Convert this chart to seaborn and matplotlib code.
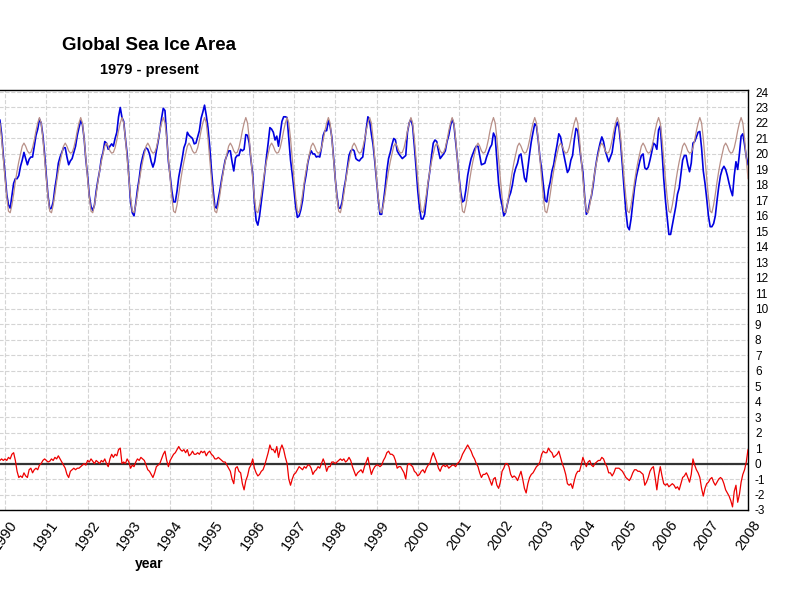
import numpy as np
import pandas as pd
import matplotlib
matplotlib.use("Agg")
import matplotlib.pyplot as plt
import seaborn as sns

# mean seasonal cycle (brown line), 24 steps per year
clim_cycle = [18.4, 17.2, 16.3, 16.2, 16.7, 17.4, 18.2, 18.9, 19.5, 20.0, 20.5, 20.7,
              20.5, 20.2, 20.05, 20.1, 20.4, 20.9, 21.5, 22.0, 22.35, 22.0, 21.0, 19.7]

# anomaly (red line), 24 steps per year
anom_1989_end = [0.2, 0.3, 0.2]
anom_1990 = [0.3, 0.2, 0.4, 0.3, 0.6, 0.7, 0.2, -0.5, -0.9, -0.8, -0.9, -0.6,
             -0.8, -0.9, -0.4, -0.3, -0.6, -0.4, -0.3, -0.4, -0.1, 0.0, 0.2, 0.3]
anom_1991 = [0.2, 0.1, 0.15, 0.3, 0.2, 0.4, 0.3, 0.5, 0.3, 0.1, -0.1, -0.3,
             -0.7, -0.9, -0.5, -0.4, -0.3, -0.4, -0.3, -0.3, -0.2, -0.1, 0.0, -0.1]
anom_1992 = [0.2, 0.1, 0.3, 0.15, 0.0, 0.2, 0.1, 0.0, 0.2, 0.1, 0.3, 0.0,
             -0.2, 0.3, 0.6, 0.4, 0.6, 0.5, 0.9, 1.0, 0.0, 0.1, 0.0, 0.3]
anom_1993 = [0.1, -0.3, -0.1, -0.2, 0.1, 0.3, 0.2, 0.4, 0.3, 0.2, -0.1, -0.4,
             -0.5, -0.7, -0.9, -0.6, -0.2, -0.1, 0.0, 0.3, 0.6, 0.8, 0.2, -0.2]
anom_1994 = [0.2, 0.4, 0.6, 0.7, 0.9, 1.1, 0.9, 0.8, 0.9, 0.7, 0.9, 0.5,
             0.6, 0.8, 0.6, 0.6, 0.7, 0.6, 0.8, 0.7, 0.8, 0.5, 0.7, 0.8]
anom_1995 = [0.6, 0.5, 0.3, 0.3, 0.4, 0.3, 0.2, 0.1, 0.1, -0.1, -0.3, -0.5,
             -1.0, -1.3, -0.3, -0.2, -0.5, -0.6, -1.3, -1.7, -1.1, -0.8, -0.3, -0.1]
anom_1996 = [0.3, -0.3, -0.6, -0.8, -0.7, -0.5, -0.4, -0.1, 0.3, 0.7, 1.2, 0.9,
             0.9, 0.7, 1.1, 0.4, 0.9, 1.2, 0.9, 0.4, 0.0, -1.0, -1.4, -1.0]
anom_1997 = [-0.7, -0.6, -0.4, -0.2, -0.3, -0.4, -0.2, -0.3, -0.1, -0.1, -0.3, -0.7,
             -0.5, -0.4, -0.2, -0.3, 0.0, 0.3, 0.0, -0.5, -0.2, -0.2, 0.1, 0.1]
anom_1998 = [0.0, 0.1, 0.2, 0.3, 0.2, 0.3, 0.1, 0.2, 0.4, 0.2, -0.2, -0.5,
             -0.8, -0.6, -0.5, -0.4, -0.6, -0.2, 0.1, 0.4, -0.2, -0.7, -0.4, -0.2]
anom_1999 = [-0.1, -0.1, -0.2, -0.1, 0.2, 0.4, 0.7, 0.8, 0.6, 0.6, 0.5, 0.2,
             -0.3, -0.2, -0.2, -0.4, -0.6, -1.0, -0.1, 0.0, -0.1, -0.2, -0.5, -0.6]
anom_2000 = [-0.8, -0.7, -0.5, -0.4, -0.6, -0.3, -0.1, 0.0, 0.4, 0.7, 0.4, 0.1,
             -0.3, -0.5, -0.2, -0.1, -0.2, -0.1, -0.3, -0.2, -0.1, -0.1, -0.2, 0.0]
anom_2001 = [0.1, 0.3, 0.6, 0.8, 1.0, 1.2, 1.0, 0.8, 0.5, 0.3, 0.0, -0.2,
             -0.6, -0.9, -0.7, -0.7, -0.6, -0.8, -1.1, -1.4, -1.0, -0.9, -1.4, -1.6]
anom_2002 = [-1.2, -0.5, -0.3, 0.0, 0.0, -0.2, -0.7, -0.9, -0.8, -0.9, -1.1, -0.8,
             -0.5, -1.0, -1.6, -1.9, -1.3, -0.9, -0.7, -0.6, -0.4, -0.2, -0.1, 0.1]
anom_2003 = [0.6, 0.8, 0.7, 0.7, 1.0, 0.8, 0.7, 0.4, 0.5, 0.6, 0.8, 0.4,
             0.0, -0.3, -0.7, -1.3, -1.4, -1.3, -1.6, -1.1, -0.7, -0.5, -0.5, -0.1]
anom_2004 = [0.4, 0.1, -0.2, 0.1, 0.2, -0.1, -0.2, 0.0, 0.1, 0.2, 0.2, 0.4,
             0.3, 0.0, -0.2, -0.6, -0.6, -0.8, -0.6, -0.3, -0.3, -0.3, -0.4, -0.5]
anom_2005 = [-0.7, -0.9, -1.0, -1.1, -0.9, -0.6, -0.4, -0.4, -0.5, -0.5, -0.6, -0.7,
             -1.4, -1.2, -0.9, -0.5, -0.3, -0.2, -0.9, -1.7, -0.8, -0.2, -0.8, -1.3]
anom_2006 = [-1.4, -1.3, -1.5, -1.4, -1.3, -1.4, -1.6, -1.5, -1.7, -1.3, -0.9, -0.8,
             -0.6, -0.9, -1.2, -0.7, 0.3, -0.1, -0.4, -0.6, -0.9, -1.6, -2.1, -1.6]
anom_2007 = [-1.3, -1.2, -1.0, -0.9, -1.2, -1.4, -1.2, -1.0, -0.9, -1.0, -1.3, -1.7,
             -1.9, -2.1, -2.4, -2.8, -1.8, -1.4, -2.5, -2.0, -1.2, -0.7, -0.4, 0.1]
anom_2008_start = [0.9]

years = list(range(1990, 2008))
anom_by_year = [anom_1990, anom_1991, anom_1992, anom_1993, anom_1994, anom_1995,
                anom_1996, anom_1997, anom_1998, anom_1999, anom_2000, anom_2001,
                anom_2002, anom_2003, anom_2004, anom_2005, anom_2006, anom_2007]

ytick_vals = list(range(-3, 25))
xtick_years = list(range(1990, 2009))

# build time axis and series
steps = np.arange(24) / 24
t = list(1989 + steps[21:])
anom = list(anom_1989_end)
clim = list(clim_cycle[21:])
for yr, vals in zip(years, anom_by_year):
    t += list(yr + steps)
    anom += vals
    clim += clim_cycle
t += [2008.0]
anom += anom_2008_start
clim += clim_cycle[:1]

df = pd.DataFrame({"year": t, "clim": clim, "anom": anom})
df["area"] = df["clim"] + df["anom"]

sns.set_style("white")
plt.rcParams["font.family"] = ["Liberation Sans", "DejaVu Sans"]
plt.rcParams["axes.unicode_minus"] = False
plt.rcParams["text.color"] = "black"
plt.rcParams["axes.labelcolor"] = "black"
plt.rcParams["xtick.color"] = "black"
plt.rcParams["ytick.color"] = "black"

fig = plt.figure(figsize=(8, 6), dpi=100)
# axis runs from 1979, only the recent part is inside the picture
ax = fig.add_axes([-449 / 800, 90 / 600, 1197 / 800, 420 / 600])

ax.axhline(0, color="#333333", lw=1.6, zorder=2)
sns.lineplot(data=df, x="year", y="area", color="#0000e0", lw=1.2, ax=ax, zorder=3)
sns.lineplot(data=df, x="year", y="clim", color="#b89088", lw=0.9, ax=ax, zorder=4)
sns.lineplot(data=df, x="year", y="anom", color="#ee0000", lw=0.9, ax=ax, zorder=3)

ax.set_xlim(1979, 2008)
ax.set_ylim(-3, 24.13)
ax.set_xticks(xtick_years)
ax.set_xticklabels([str(y) for y in xtick_years], rotation=55, ha="center")
ax.set_yticks(ytick_vals)
ax.yaxis.tick_right()
ax.tick_params(axis="y", length=0, pad=5, labelsize=8.5)
ax.tick_params(axis="x", length=0, pad=6, labelsize=10.5)
ax.grid(True, ls="--", color="#d4d4d4", lw=0.8)
ax.set_axisbelow(True)
for side in ["top", "right", "bottom", "left"]:
    ax.spines[side].set_color("black")
    ax.spines[side].set_linewidth(1.0)

ax.set_ylabel("")
ax.set_xlabel("year", fontsize=10, fontweight="bold")
ax.xaxis.set_label_coords(0.5, -0.112)

cx = (-449 + 748) / 2 / 800
fig.text(cx, 1 - 45 / 600, "Global Sea Ice Area", ha="center", va="center",
         fontsize=13.5, fontweight="bold")
fig.text(cx, 1 - 70 / 600, "1979 - present", ha="center", va="center",
         fontsize=10.5, fontweight="bold")

fig.savefig("out.png", dpi=100)
